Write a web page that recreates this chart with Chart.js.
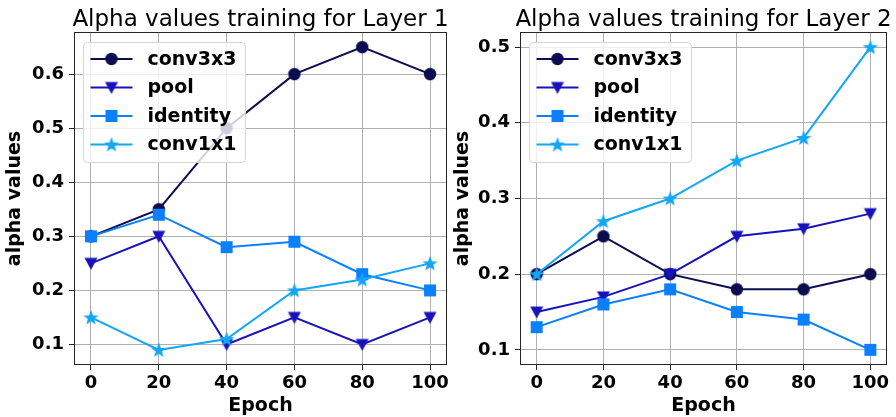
<!DOCTYPE html>
<html>
<head>
<meta charset="utf-8">
<script src="https://cdn.jsdelivr.net/npm/chart.js@4.4.1/dist/chart.umd.min.js"></script>
<style>
  html, body { margin: 0; padding: 0; background: #fff; overflow: hidden; }
  #wrap { position: relative; width: 896px; height: 417px; }
  canvas { position: absolute; top: 0; }
</style>
</head>
<body>
<div id="wrap">
  <canvas id="layer1" width="456" height="417" style="left:0px"></canvas>
  <canvas id="layer2" width="448" height="417" style="left:448px"></canvas>
</div>
<script>
// Values
const epochs = [0, 20, 40, 60, 80, 100];
const seriesNames = ['conv3x3', 'pool', 'identity', 'conv1x1'];

const layer1Conv3x3 = [0.30, 0.35, 0.50, 0.60, 0.65, 0.60];
const layer1Pool = [0.25, 0.30, 0.10, 0.15, 0.10, 0.15];
const layer1Identity = [0.30, 0.34, 0.28, 0.29, 0.23, 0.20];
const layer1Conv1x1 = [0.15, 0.09, 0.11, 0.20, 0.22, 0.25];

const layer2Conv3x3 = [0.20, 0.25, 0.20, 0.18, 0.18, 0.20];
const layer2Pool = [0.15, 0.17, 0.20, 0.25, 0.26, 0.28];
const layer2Identity = [0.13, 0.16, 0.18, 0.15, 0.14, 0.10];
const layer2Conv1x1 = [0.20, 0.27, 0.30, 0.35, 0.38, 0.50];

const xTicks = [0, 20, 40, 60, 80, 100];
const yTicksLayer1 = [0.1, 0.2, 0.3, 0.4, 0.5, 0.6];
const yTicksLayer2 = [0.1, 0.2, 0.3, 0.4, 0.5];

const colors = ['#0c0c50', '#1812bc', '#0a80ff', '#14a6f6'];
const shapes = ['circle', 'triangleDown', 'square', 'star'];

Chart.defaults.font.family = "'DejaVu Sans', sans-serif";
Chart.defaults.color = '#000';

// Build a small canvas with a filled marker, used as pointStyle and in the legend
function makeMarker(shape, color) {
    const size = shape === 'star' ? 18 : 14;
    const c = document.createElement('canvas');
    c.width = size;
    c.height = size;
    const g = c.getContext('2d');
    const m = size / 2;
    g.fillStyle = color;
    g.beginPath();
    if (shape === 'circle') {
        g.arc(m, m, 6.2, 0, Math.PI * 2);
    } else if (shape === 'square') {
        g.rect(m - 6, m - 6, 12, 12);
    } else if (shape === 'triangleDown') {
        g.moveTo(m - 6.5, m - 5.5);
        g.lineTo(m + 6.5, m - 5.5);
        g.lineTo(m, m + 6.5);
        g.closePath();
    } else {
        const outer = 8, inner = 3.3;
        for (let i = 0; i < 10; i++) {
            const r = i % 2 === 0 ? outer : inner;
            const a = -Math.PI / 2 + i * Math.PI / 5;
            const px = m + r * Math.cos(a);
            const py = m + 0.6 + r * Math.sin(a);
            if (i === 0) g.moveTo(px, py); else g.lineTo(px, py);
        }
        g.closePath();
    }
    g.fill();
    return c;
}

const markers = shapes.map((s, i) => makeMarker(s, colors[i]));

// Frame, legend box and title drawn over the plot like matplotlib does
const overlayPlugin = {
    id: 'overlay',
    afterDatasetsDraw(chart, args, opts) {
        const ctx = chart.ctx;
        const area = chart.chartArea;
        ctx.save();

        // spines on all four sides
        ctx.strokeStyle = '#262626';
        ctx.lineWidth = 1;
        ctx.strokeRect(Math.round(area.left) + 0.5, Math.round(area.top) + 0.5,
            Math.round(area.right - area.left) - 1, Math.round(area.bottom - area.top) - 1);

        // legend
        const bx = area.left + 9.5, by = area.top + 10.5, bw = 162, bh = 120;
        ctx.beginPath();
        ctx.roundRect(bx, by, bw, bh, 4);
        ctx.fillStyle = 'rgba(255,255,255,0.8)';
        ctx.fill();
        ctx.strokeStyle = '#d6d6d6';
        ctx.stroke();

        ctx.font = "bold 19px 'DejaVu Sans'";
        ctx.textBaseline = 'middle';
        ctx.textAlign = 'left';
        seriesNames.forEach((name, i) => {
            const y = by + 16.5 + i * 28.5;
            ctx.strokeStyle = colors[i];
            ctx.lineWidth = 2;
            ctx.beginPath();
            ctx.moveTo(bx + 7, y);
            ctx.lineTo(bx + 49, y);
            ctx.stroke();
            const mk = markers[i];
            ctx.drawImage(mk, bx + 28 - mk.width / 2, y - mk.height / 2);
            ctx.fillStyle = '#000';
            ctx.fillText(name, bx + 64, y + 1);
        });

        // title centred on the axes
        ctx.font = "23px 'DejaVu Sans'";
        ctx.textAlign = 'center';
        ctx.textBaseline = 'alphabetic';
        ctx.fillStyle = '#000';
        ctx.fillText(opts.text, (area.left + area.right) / 2, 26);
        ctx.restore();
    }
};

function buildChart(canvasId, title, values, yTicks, yMin, yMax, yWidth, padRight) {
    const datasets = seriesNames.map((name, i) => ({
        label: name,
        data: epochs.map((e, j) => ({ x: e, y: values[i][j] })),
        borderColor: colors[i],
        backgroundColor: colors[i],
        borderWidth: 2,
        pointStyle: markers[i],
        pointRadius: 7,
        pointHoverRadius: 7,
        tension: 0,
        clip: false,
        order: seriesNames.length - 1 - i   // later series drawn on top
    }));

    return new Chart(document.getElementById(canvasId), {
        type: 'line',
        data: { datasets: datasets },
        plugins: [overlayPlugin],
        options: {
            responsive: false,
            animation: false,
            events: [],
            layout: { padding: { top: 32, right: padRight, left: 0, bottom: 0 } },
            plugins: {
                legend: { display: false },
                tooltip: { enabled: false },
                overlay: { text: title }
            },
            scales: {
                x: {
                    type: 'linear',
                    min: -5,
                    max: 105,
                    afterFit(scale) { scale.height = 52; },
                    afterBuildTicks(scale) { scale.ticks = xTicks.map(v => ({ value: v })); },
                    grid: { color: '#b0b0b0', lineWidth: 1, tickColor: '#262626', tickLength: 5 },
                    border: { display: false },
                    ticks: {
                        padding: 3,
                        font: { size: 18, weight: 'bold' },
                        callback: v => String(v)
                    },
                    title: {
                        display: true,
                        text: 'Epoch',
                        font: { size: 19, weight: 'bold' },
                        padding: { top: 0, bottom: 0 }
                    }
                },
                y: {
                    min: yMin,
                    max: yMax,
                    afterFit(scale) { scale.width = yWidth; },
                    afterBuildTicks(scale) { scale.ticks = yTicks.map(v => ({ value: v })); },
                    grid: { color: '#b0b0b0', lineWidth: 1, tickColor: '#262626', tickLength: 5 },
                    border: { display: false },
                    ticks: {
                        padding: 5,
                        font: { size: 18, weight: 'bold' },
                        callback: v => v.toFixed(1)
                    },
                    title: {
                        display: true,
                        text: 'alpha values',
                        font: { size: 19, weight: 'bold' },
                        padding: { top: 4, bottom: 0 }
                    }
                }
            }
        }
    });
}

buildChart('layer1', 'Alpha values training for Layer 1',
    [layer1Conv3x3, layer1Pool, layer1Identity, layer1Conv1x1],
    yTicksLayer1, 0.062, 0.678, 74, 9);

buildChart('layer2', 'Alpha values training for Layer 2',
    [layer2Conv3x3, layer2Pool, layer2Identity, layer2Conv1x1],
    yTicksLayer2, 0.08, 0.52, 72, 3);
</script>
</body>
</html>
